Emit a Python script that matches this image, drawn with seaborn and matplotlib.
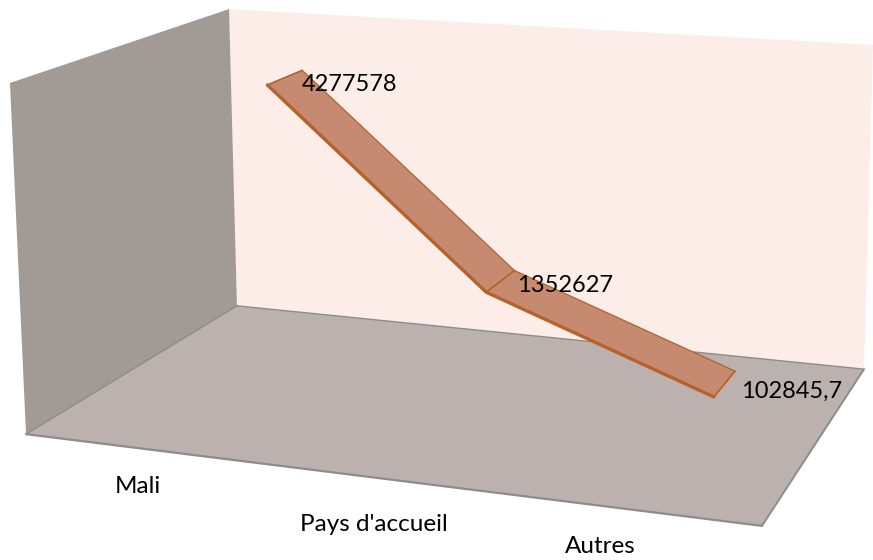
import numpy as np
import pandas as pd
import matplotlib
matplotlib.use("Agg")
import matplotlib.pyplot as plt
import seaborn as sns

categories = ["Mali", "Pays d'accueil", "Autres"]
values = [4277578, 1352627, 102845.7]
value_labels = ["4277578", "1352627", "102845,7"]

Z_MAX = 5000000.0
DEPTH = (0.655, 0.845)

# label nudges in canvas pixels (right, down) from the anchor of each mark
value_nudge = [(0, 14), (3, 15), (6, 20)]
category_nudge = [(0, 38), (0, 47), (-27, 37)]

# box corners: (x, depth, height) -> position on the canvas, used to fit the camera
box = [((0, 0, 0), (26, 434)), ((0, 1, 0), (237, 306)), ((1, 0, 0), (762, 526)),
       ((1, 1, 0), (864, 369)), ((0, 0, 1), (10, 83)), ((0, 1, 1), (229, 9)),
       ((1, 1, 1), (873, 45))]
rows, rhs = [], []
for (X, Y, Z), (u, v) in box:
    rows.append([X, Y, Z, 1, 0, 0, 0, 0, -u * X, -u * Y, -u * Z]); rhs.append(u)
    rows.append([0, 0, 0, 0, X, Y, Z, 1, -v * X, -v * Y, -v * Z]); rhs.append(v)
cam = np.append(np.linalg.lstsq(np.array(rows, float), np.array(rhs, float), rcond=None)[0], 1).reshape(3, 4)

def project(X, Y, Z):
    p = cam @ np.array([X, Y, Z, 1.0])
    return p[0] / p[2], p[1] / p[2]

sns.set_theme(style="white")
plt.rcParams["font.family"] = ["Lato", "DejaVu Sans"]
fig = plt.figure(figsize=(8.73, 5.6), dpi=100)
ax = fig.add_axes([0, 0, 1, 1])

def face(corners, color):
    pts = [project(*c) for c in corners]
    ax.fill(*zip(*pts), facecolor=color, edgecolor="none", zorder=1)

face([(0, 1, 0), (1, 1, 0), (1, 1, 1), (0, 1, 1)], "#FCEDE8")
face([(0, 0, 0), (0, 1, 0), (0, 1, 1), (0, 0, 1)], "#A29A95")
face([(0, 0, 0), (1, 0, 0), (1, 1, 0), (0, 1, 0)], "#BBB1AF")
for a, b, lw in [((0, 0, 0), (1, 0, 0), 1.6), ((1, 0, 0), (1, 1, 0), 1.4),
                 ((1, 1, 0), (0, 1, 0), 1.0), ((0, 1, 0), (0, 0, 0), 1.0)]:
    p, q = project(*a), project(*b)
    ax.plot([p[0], q[0]], [p[1], q[1]], color="#8E8C8B", lw=lw, zorder=2)

xs = [(i + 0.5) / len(categories) for i in range(len(categories))]
front = [project(x, DEPTH[0], v / Z_MAX) for x, v in zip(xs, values)]
back = [project(x, DEPTH[1], v / Z_MAX) for x, v in zip(xs, values)]

ax.fill(*zip(*(front + back[::-1])), facecolor="#C58A6F", edgecolor="none", zorder=3)
edge = "#B5622C"
for pts, w in [(front, 2.4), (back, 0.9)]:
    df = pd.DataFrame(pts, columns=["u", "v"])
    sns.lineplot(data=df, x="u", y="v", ax=ax, color=edge, lw=w, sort=False, estimator=None, zorder=4)
for f, b in zip(front, back):
    ax.plot([f[0], b[0]], [f[1], b[1]], color=edge, lw=1.2, zorder=4)

ax.set_xlim(0, 873)
ax.set_ylim(560, 0)
ax.axis("off")

for b, t, (dx, dy) in zip(back, value_labels, value_nudge):
    ax.annotate(t, xy=b, xytext=(dx * 0.72, -dy * 0.72), textcoords="offset points", fontsize=17,
                color="black", ha="left", va="center", zorder=5)
for x, c, (dx, dy) in zip(xs, categories, category_nudge):
    ax.annotate(c, xy=project(x, 0, 0), xytext=(dx * 0.72, -dy * 0.72), textcoords="offset points",
                fontsize=17.5, color="black", ha="center", va="center", zorder=5)

fig.savefig("out.png", dpi=100)
